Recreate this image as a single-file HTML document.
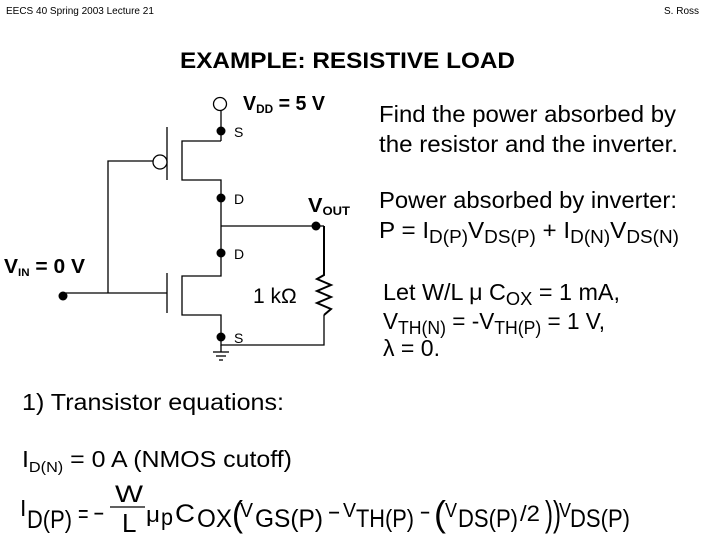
<!DOCTYPE html>
<html><head><style>
body{margin:0;background:#fff;}
svg{display:block;font-family:"Liberation Sans",sans-serif;}
</style></head><body>
<svg width="720" height="540" viewBox="0 0 720 540" xmlns="http://www.w3.org/2000/svg">
<text x="6" y="14" font-size="10">EECS 40 Spring 2003  Lecture 21</text>
<text x="664" y="14" font-size="10">S. Ross</text>
<text x="180" y="68" font-size="22" font-weight="bold" textLength="335" lengthAdjust="spacingAndGlyphs">EXAMPLE:  RESISTIVE LOAD</text>
<g stroke="#000" stroke-width="1.3" fill="none">
<circle cx="220" cy="104" r="6.5" fill="#fff"/>
<line x1="221" y1="111" x2="221" y2="141"/>
<polyline points="221,141 182,141 182,180 221,180 221,276 182,276 182,315 221,315 221,345 324,345 324,315"/>
<line x1="167" y1="127" x2="167" y2="180"/>
<circle cx="160" cy="162" r="7" fill="#fff"/>
<polyline points="153,161 108,161 108,293"/>
<line x1="63" y1="293" x2="167" y2="293"/>
<line x1="167" y1="273" x2="167" y2="313"/>
<polyline points="221,226 316,226"/>
<polyline points="324,226 324,275 317,279 331,285 317,291 331,297 317,303 331,309 324,315" stroke-width="2"/>
<line x1="316" y1="226" x2="324" y2="226"/>
<line x1="221" y1="345" x2="221" y2="352"/>
<line x1="213" y1="352" x2="229" y2="352"/>
<line x1="216" y1="356" x2="226" y2="356"/>
<line x1="219" y1="360" x2="223" y2="360"/>
</g>
<g fill="#000">
<circle cx="221" cy="131" r="4.5"/><circle cx="221" cy="198" r="4.5"/>
<circle cx="316" cy="226" r="4.5"/><circle cx="221" cy="253" r="4.5"/>
<circle cx="63" cy="296" r="4.5"/><circle cx="221" cy="337" r="4.5"/>
</g>
<g font-size="14">
<text x="234" y="137">S</text><text x="234" y="204">D</text>
<text x="234" y="259">D</text><text x="234" y="343">S</text>
</g>
<g font-weight="bold" font-size="20">
<text x="243" y="110" textLength="82" lengthAdjust="spacingAndGlyphs">V<tspan font-size="12" dy="3">DD</tspan><tspan dy="-3"> = 5 V</tspan></text>
<text x="308" y="212" textLength="42" lengthAdjust="spacingAndGlyphs">V<tspan font-size="12" dy="3">OUT</tspan></text>
<text x="4" y="273" textLength="81" lengthAdjust="spacingAndGlyphs">V<tspan font-size="11" dy="3">IN</tspan><tspan dy="-3"> = 0 V</tspan></text>
</g>
<text x="253" y="303" font-size="21">1 kΩ</text>
<g font-size="23">
<text x="379" y="122" textLength="297" lengthAdjust="spacingAndGlyphs">Find the power absorbed by</text>
<text x="379" y="152" textLength="299" lengthAdjust="spacingAndGlyphs">the resistor and the inverter.</text>
<text x="379" y="208" textLength="298" lengthAdjust="spacingAndGlyphs">Power absorbed by inverter:</text>
<text x="379" y="238" textLength="300" lengthAdjust="spacingAndGlyphs">P = I<tspan font-size="18" dy="5">D(P)</tspan><tspan dy="-5">V</tspan><tspan font-size="18" dy="5">DS(P)</tspan><tspan dy="-5"> + I</tspan><tspan font-size="18" dy="5">D(N)</tspan><tspan dy="-5">V</tspan><tspan font-size="18" dy="5">DS(N)</tspan></text>
<text x="383" y="300" textLength="237" lengthAdjust="spacingAndGlyphs">Let W/L μ C<tspan font-size="18" dy="5">OX</tspan><tspan dy="-5"> = 1 mA,</tspan></text>
<text x="383" y="329" textLength="222" lengthAdjust="spacingAndGlyphs">V<tspan font-size="18" dy="5">TH(N)</tspan><tspan dy="-5"> = -V</tspan><tspan font-size="18" dy="5">TH(P)</tspan><tspan dy="-5"> = 1 V,</tspan></text>
<text x="383" y="356" textLength="57" lengthAdjust="spacingAndGlyphs">λ = 0.</text>
<text x="22" y="410" textLength="262" lengthAdjust="spacingAndGlyphs">1)  Transistor equations:</text>
<text x="22" y="467" textLength="270" lengthAdjust="spacingAndGlyphs">I<tspan font-size="15" dy="5">D(N)</tspan><tspan dy="-5"> = 0 A (NMOS cutoff)</tspan></text>
</g>
<g font-size="25" fill="#000">
<text x="20" y="516" font-size="23">I</text>
<text x="27" y="528" textLength="45" lengthAdjust="spacingAndGlyphs">D(P)</text>
<text x="78" y="522" font-size="25" textLength="26" lengthAdjust="spacingAndGlyphs">= −</text>
<text x="115" y="502" font-size="24" textLength="28" lengthAdjust="spacingAndGlyphs">W</text>
<line x1="110" y1="507" x2="145" y2="507" stroke="#000" stroke-width="1.3"/>
<text x="122" y="532" font-size="26">L</text>
<text x="146" y="522" font-size="22" textLength="14" lengthAdjust="spacingAndGlyphs">μ</text>
<text x="161" y="525" font-size="23" textLength="12" lengthAdjust="spacingAndGlyphs">p</text>
<text x="175" y="522" textLength="20" lengthAdjust="spacingAndGlyphs">C</text>
<text x="197" y="527" textLength="35" lengthAdjust="spacingAndGlyphs">OX</text>
<text x="232" y="526" font-size="36" textLength="11" lengthAdjust="spacingAndGlyphs">(</text>
<text x="240" y="517" font-size="20" textLength="13" lengthAdjust="spacingAndGlyphs">V</text>
<text x="255" y="527" textLength="68" lengthAdjust="spacingAndGlyphs">GS(P)</text>
<text x="328" y="521" textLength="12" lengthAdjust="spacingAndGlyphs">−</text>
<text x="343" y="517" font-size="20" textLength="13" lengthAdjust="spacingAndGlyphs">V</text>
<text x="356" y="527" textLength="58" lengthAdjust="spacingAndGlyphs">TH(P)</text>
<text x="420" y="521" textLength="10" lengthAdjust="spacingAndGlyphs">−</text>
<text x="434" y="526" font-size="36" textLength="12" lengthAdjust="spacingAndGlyphs">(</text>
<text x="445" y="517" font-size="20" textLength="12" lengthAdjust="spacingAndGlyphs">V</text>
<text x="458" y="527" textLength="60" lengthAdjust="spacingAndGlyphs">DS(P)</text>
<text x="520" y="521" font-size="22" textLength="20" lengthAdjust="spacingAndGlyphs">/2</text>
<text x="545" y="526" font-size="36" textLength="16" lengthAdjust="spacingAndGlyphs">))</text>
<text x="559" y="517" font-size="20" textLength="12" lengthAdjust="spacingAndGlyphs">V</text>
<text x="570" y="527" textLength="60" lengthAdjust="spacingAndGlyphs">DS(P)</text>
</g>
</svg>
</body></html>
